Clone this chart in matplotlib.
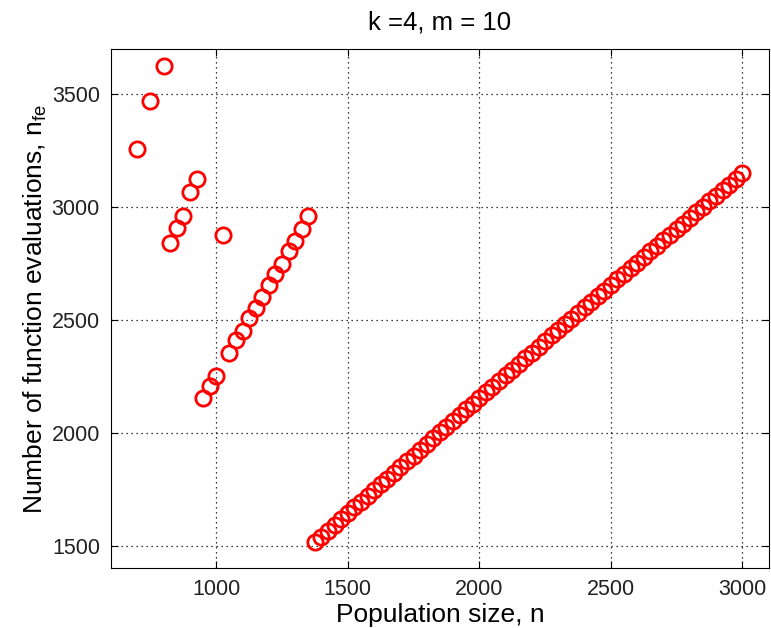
import matplotlib
matplotlib.use("Agg")
import matplotlib.pyplot as plt

# population sizes and function evaluation counts
n_early = [700, 750, 800, 825, 850, 875, 900, 925, 950, 975, 1000, 1025,
           1050, 1075, 1100, 1125, 1150, 1175, 1200, 1225, 1250, 1275,
           1300, 1325, 1350]
nfe_early = [3260, 3473, 3627, 2840, 2907, 2963, 3067, 3127, 2154, 2209,
             2253, 2875, 2355, 2412, 2450, 2509, 2552, 2602, 2656, 2705,
             2747, 2807, 2851, 2904, 2962]

n_late = list(range(1375, 3001, 25))
nfe_late = [1515, 1541, 1567, 1593, 1619, 1645, 1671, 1696, 1722, 1747,
            1773, 1798, 1824, 1849, 1875, 1900, 1926, 1951, 1977, 2002,
            2028, 2053, 2078, 2104, 2129, 2154, 2180, 2205, 2230, 2255,
            2281, 2306, 2331, 2356, 2382, 2407, 2432, 2457, 2482, 2507,
            2532, 2557, 2581, 2606, 2631, 2656, 2681, 2705, 2730, 2755,
            2780, 2804, 2829, 2854, 2878, 2903, 2928, 2952, 2977, 3002,
            3026, 3051, 3076, 3100, 3125, 3150]

x_ticks = [1000, 1500, 2000, 2500, 3000]
y_ticks = [1500, 2000, 2500, 3000, 3500]

plt.rcParams['font.family'] = ['Liberation Sans', 'DejaVu Sans']
plt.rcParams['mathtext.fontset'] = 'custom'
plt.rcParams['mathtext.rm'] = 'Liberation Sans'

fig = plt.figure(figsize=(7.71, 6.28), dpi=100)
ax = fig.add_axes([0.144, 0.095, 0.853, 0.8265])

ax.plot(n_early + n_late, nfe_early + nfe_late, 'o', color='red',
        markerfacecolor='none', markersize=11, markeredgewidth=2)

ax.set_xlim(600, 3100)
ax.set_ylim(1400, 3700)
ax.set_xticks(x_ticks)
ax.set_yticks(y_ticks)
ax.grid(True, color='black', linestyle=(0, (1, 3)), linewidth=0.9)
ax.tick_params(direction='in', length=5, top=True, right=True,
               labelsize=15.5, pad=8, labelcolor='#222222')
for s in ax.spines.values():
    s.set_linewidth(0.8)

ax.set_title('k =4, m = 10', fontsize=18.5, pad=14)
ax.set_xlabel('Population size, n', fontsize=19, labelpad=2)
ax.set_ylabel(r'Number of function evaluations, n$_{\mathregular{fe}}$',
              fontsize=19, labelpad=2)

fig.savefig('out.png', dpi=100)
